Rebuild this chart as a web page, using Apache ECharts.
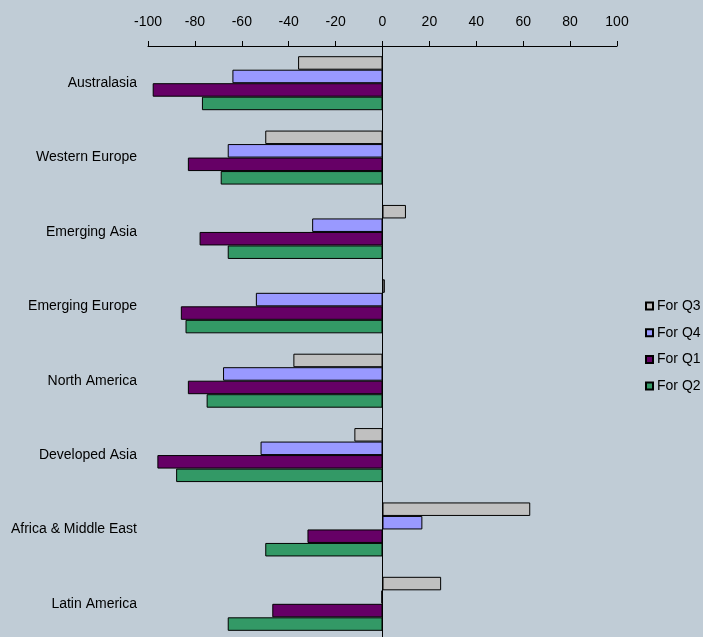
<!DOCTYPE html>
<html><head><meta charset="utf-8">
<script src="https://cdn.jsdelivr.net/npm/echarts@6/dist/echarts.min.js"></script>
<style>html,body{margin:0;padding:0;background:#c0ccd6;}#c{width:703px;height:637px;}</style>
</head><body><div id="c"></div>
<script>
const categories = ['Australasia','Western Europe','Emerging Asia','Emerging Europe','North America','Developed Asia','Africa & Middle East','Latin America'];
const forQ3 = [-36, -50, 10, 1, -38, -12, 63, 25];
const forQ4 = [-64, -66, -30, -54, -68, -52, 17, -0.5];
const forQ1 = [-98, -83, -78, -86, -83, -96, -32, -47];
const forQ2 = [-77, -69, -66, -84, -75, -88, -50, -66];
const xTicks = {min: -100, max: 100, step: 20};

const font = "'Liberation Sans', Arial, sans-serif";
const fs = 14;
const mk = (name, data, color) => ({
  name, type: 'bar', data, barWidth: 13.5, barGap: '0%',
  itemStyle: {color, borderColor: '#000', borderWidth: 1},
  emphasis: {disabled: true}
});
const s = [
  mk('For Q3', forQ3, '#c0c0c0'),
  mk('For Q4', forQ4, '#9999ff'),
  mk('For Q1', forQ1, '#660066'),
  mk('For Q2', forQ2, '#339966')
];
s[0].markLine = {symbol: 'none', silent: true, label: {show: false},
  lineStyle: {color: '#000', width: 1, type: 'solid'}, data: [{xAxis: 0}]};

const chart = echarts.init(document.getElementById('c'));
chart.setOption({
  backgroundColor: '#c0ccd6',
  animation: false,
  textStyle: {fontFamily: font, color: '#000'},
  grid: {left: 148, width: 469, top: 46, height: 595, containLabel: false, outerBoundsMode: 'none'},
  legend: {
    orient: 'vertical', left: 645, top: 299, padding: 0, itemWidth: 7, itemHeight: 7, itemGap: 12.7,
    icon: 'rect', textStyle: {fontFamily: font, fontSize: fs, lineHeight: 14, color: '#000', padding: [0,0,0,-1]},
    data: ['For Q3','For Q4','For Q1','For Q2']
  },
  xAxis: {
    type: 'value', position: 'top', min: xTicks.min, max: xTicks.max, interval: xTicks.step,
    axisLine: {show: true, lineStyle: {color: '#000', width: 1}},
    axisTick: {show: true, length: 5, lineStyle: {color: '#000'}},
    splitLine: {show: false},
    axisLabel: {fontFamily: font, fontSize: fs, color: '#000', margin: 17}
  },
  yAxis: {
    type: 'category', data: categories, inverse: true,
    axisLine: {show: false}, axisTick: {show: false}, splitLine: {show: false},
    axisLabel: {fontFamily: font, fontSize: fs, color: '#000', margin: 11}
  },
  series: s
});
</script></body></html>
